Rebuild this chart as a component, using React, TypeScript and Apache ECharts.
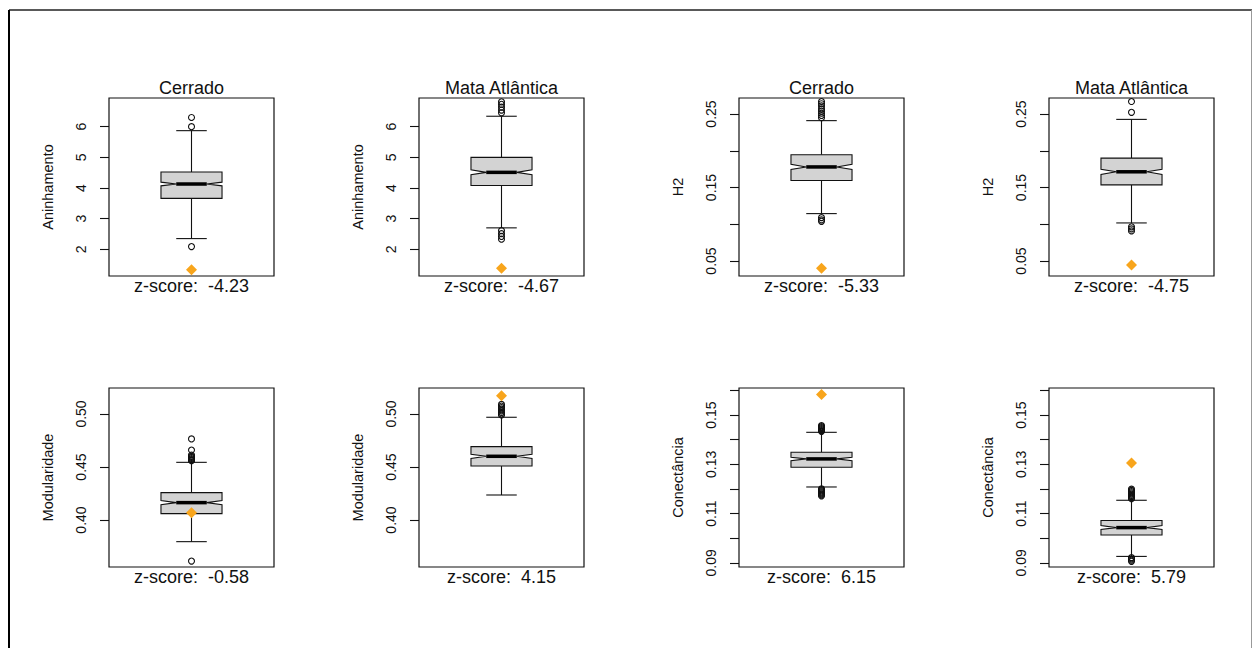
import React, { useEffect, useRef } from "react";
import * as echarts from "echarts";

// ---------------- data ----------------
const biomes = ["Cerrado", "Mata Atlântica"];
const metrics = ["Aninhamento", "H2", "Modularidade", "Conectância"];

// box stats: [lower whisker, Q1, median, Q3, upper whisker]  (Cerrado, Mata Atlântica)
const boxAninhamento = [
  [2.35, 3.66, 4.13, 4.52, 5.87],
  [2.70, 4.08, 4.51, 5.0, 6.34],
];
const notchAninhamento = [0.06, 0.08];
const outAninhamento = [
  [6.3, 6.0, 2.09],
  [6.81, 6.73, 6.64, 6.54, 6.45, 2.61, 2.51, 2.42, 2.33],
];
const obsAninhamento = [1.33, 1.38];
const zAninhamento = [-4.23, -4.67];
const ticksAninhamento = [2, 3, 4, 5, 6];
const labelsAninhamento = [2, 3, 4, 5, 6];
const rangeAninhamento = [1.13, 6.935];

const boxH2 = [
  [0.1145, 0.1595, 0.178, 0.1946, 0.241],
  [0.1018, 0.1536, 0.1714, 0.19, 0.2427],
];
const notchH2 = [0.0035, 0.0035];
const outH2 = [
  [0.267, 0.264, 0.261, 0.257, 0.254, 0.251, 0.248, 0.245, 0.109, 0.106, 0.104],
  [0.267, 0.2523, 0.0965, 0.0937, 0.091],
];
const obsH2 = [0.04, 0.0446];
const zH2 = [-5.33, -4.75];
const ticksH2 = [0.05, 0.1, 0.15, 0.2, 0.25];
const labelsH2 = [0.05, 0.15, 0.25];
const rangeH2 = [0.0296, 0.2718];

const boxModularidade = [
  [0.3796, 0.406, 0.4164, 0.4258, 0.4544],
  [0.4236, 0.4509, 0.4601, 0.4692, 0.4969],
];
const notchModularidade = [0.002, 0.002];
const outModularidade = [
  [0.4765, 0.466, 0.4613, 0.46, 0.459, 0.458, 0.457, 0.4565, 0.456, 0.3613],
  [0.509, 0.5075, 0.506, 0.5045, 0.503, 0.5015, 0.5, 0.499],
];
const obsModularidade = [0.4069, 0.5173];
const zModularidade = [-0.58, 4.15];
const ticksModularidade = [0.4, 0.45, 0.5];
const labelsModularidade = [0.4, 0.45, 0.5];
const rangeModularidade = [0.3557, 0.5245];

const boxConectancia = [
  [0.1208, 0.1288, 0.1322, 0.1349, 0.143],
  [0.0926, 0.1013, 0.1043, 0.1072, 0.1154],
];
const notchConectancia = [0.0007, 0.0008];
const outConectancia = [
  [0.1457, 0.1453, 0.1449, 0.1445, 0.1441, 0.1437, 0.1434, 0.12, 0.1196, 0.1192, 0.1188, 0.1184, 0.118, 0.1176, 0.1172],
  [0.1199, 0.1194, 0.1189, 0.1184, 0.1179, 0.1174, 0.1169, 0.1164, 0.116, 0.0921, 0.0916, 0.0911, 0.0906],
];
const obsConectancia = [0.1584, 0.1305];
const zConectancia = [6.15, 5.79];
const ticksConectancia = [0.09, 0.1, 0.11, 0.12, 0.13, 0.14, 0.15, 0.16];
const labelsConectancia = [0.09, 0.11, 0.13, 0.15];
const rangeConectancia = [0.0883, 0.161];

const metricDecimals = [0, 2, 2, 2];

// ---------------- layout ----------------
const panelMetric = [0, 0, 1, 1, 2, 2, 3, 3];
const panelBiome = [0, 1, 0, 1, 0, 1, 0, 1];
const gridLefts = [109, 419, 739, 1049];
const gridTops = [98, 388];
const gridWidth = 165;
const gridHeights = [178, 179];
const BOX_HALF = 0.185;
const FONT = "'Liberation Sans', Arial, Helvetica, sans-serif";

const boxes = [boxAninhamento, boxH2, boxModularidade, boxConectancia];
const notches = [notchAninhamento, notchH2, notchModularidade, notchConectancia];
const outs = [outAninhamento, outH2, outModularidade, outConectancia];
const obs = [obsAninhamento, obsH2, obsModularidade, obsConectancia];
const zs = [zAninhamento, zH2, zModularidade, zConectancia];
const ticks = [ticksAninhamento, ticksH2, ticksModularidade, ticksConectancia];
const labels = [labelsAninhamento, labelsH2, labelsModularidade, labelsConectancia];
const ranges = [rangeAninhamento, rangeH2, rangeModularidade, rangeConectancia];

function renderBox(params: any, api: any) {
  const xi = api.value(0);
  const lw = api.value(1);
  const q1 = api.value(2);
  const med = api.value(3);
  const q3 = api.value(4);
  const uw = api.value(5);
  const nh = api.value(6);
  const band = api.size([1, 0])[0];
  const hw = band * BOX_HALF;
  const cx = api.coord([xi, med])[0];
  const y = (v: number) => api.coord([xi, v])[1];
  const stroke = { stroke: "#111", lineWidth: 1.1, fill: null };
  const pts = [
    [cx - hw, y(q1)],
    [cx + hw, y(q1)],
    [cx + hw, y(med - nh)],
    [cx + hw * 0.5, y(med)],
    [cx + hw, y(med + nh)],
    [cx + hw, y(q3)],
    [cx - hw, y(q3)],
    [cx - hw, y(med + nh)],
    [cx - hw * 0.5, y(med)],
    [cx - hw, y(med - nh)],
  ];
  return {
    type: "group",
    children: [
      { type: "line", shape: { x1: cx, y1: y(lw), x2: cx, y2: y(q1) }, style: stroke },
      { type: "line", shape: { x1: cx, y1: y(q3), x2: cx, y2: y(uw) }, style: stroke },
      { type: "line", shape: { x1: cx - hw * 0.5, y1: y(lw), x2: cx + hw * 0.5, y2: y(lw) }, style: stroke },
      { type: "line", shape: { x1: cx - hw * 0.5, y1: y(uw), x2: cx + hw * 0.5, y2: y(uw) }, style: stroke },
      { type: "polygon", shape: { points: pts }, style: { fill: "#D3D3D3", stroke: "#111", lineWidth: 1.1 } },
      { type: "line", shape: { x1: cx - hw * 0.5, y1: y(med), x2: cx + hw * 0.5, y2: y(med) }, style: { stroke: "#000", lineWidth: 3.5 } },
    ],
  };
}

function buildOption() {
  const grid: any[] = [];
  const xAxis: any[] = [];
  const yAxis: any[] = [];
  const series: any[] = [];
  const title: any[] = [];

  for (let p = 0; p < 8; p++) {
    const m = panelMetric[p];
    const b = panelBiome[p];
    const row = p < 4 ? 0 : 1;
    const col = p % 4;
    const dec = metricDecimals[m];
    grid.push({
      left: gridLefts[col],
      top: gridTops[row],
      width: gridWidth,
      height: gridHeights[row],
      show: true,
      borderColor: "#111",
      borderWidth: 1.2,
      backgroundColor: "transparent",
      containLabel: false,
    });
    xAxis.push({
      type: "category",
      gridIndex: p,
      data: [biomes[b]],
      axisLine: { show: false },
      axisTick: { show: false },
      axisLabel: { show: false },
      splitLine: { show: false },
      name: "z-score:  " + zs[m][b].toFixed(2),
      nameLocation: "middle",
      nameGap: 1,
      nameTextStyle: { fontFamily: FONT, fontSize: 18, color: "#111" },
    });
    yAxis.push({
      type: "value",
      gridIndex: p,
      min: ranges[m][0],
      max: ranges[m][1],
      axisLine: { show: false },
      splitLine: { show: false },
      axisTick: { show: true, length: 9, customValues: ticks[m], lineStyle: { color: "#111", width: 1.1 } },
      axisLabel: {
        show: true,
        customValues: labels[m],
        rotate: 90,
        margin: 21,
        fontFamily: FONT,
        fontSize: 14,
        color: "#111",
        formatter: (v: number) => Number(v).toFixed(dec),
      },
      name: metrics[m],
      nameLocation: "middle",
      nameRotate: 90,
      nameGap: 54,
      nameTextStyle: { fontFamily: FONT, fontSize: 14.5, color: "#111" },
    });
    series.push({
      type: "custom",
      xAxisIndex: p,
      yAxisIndex: p,
      renderItem: renderBox,
      encode: { x: 0, y: [1, 2, 3, 4, 5] },
      data: [[0, ...boxes[m][b], notches[m][b]]],
      z: 2,
    });
    series.push({
      type: "scatter",
      xAxisIndex: p,
      yAxisIndex: p,
      symbol: "circle",
      symbolSize: 6,
      itemStyle: { color: "rgba(255,255,255,0)", borderColor: "#111", borderWidth: 1.1, opacity: 1 },
      data: outs[m][b].map((v) => [0, v]),
      z: 3,
    });
    series.push({
      type: "scatter",
      xAxisIndex: p,
      yAxisIndex: p,
      symbol: "diamond",
      symbolSize: 11,
      itemStyle: { color: "#F8A51C", opacity: 1 },
      data: [[0, obs[m][b]]],
      z: 4,
    });
    if (row === 0) {
      title.push({
        text: biomes[b],
        left: gridLefts[col] + gridWidth / 2,
        top: 79,
        textAlign: "center",
        padding: 0,
        textStyle: { fontFamily: FONT, fontSize: 18, fontWeight: "normal", color: "#111" },
      });
    }
  }

  return {
    animation: false,
    backgroundColor: "#fff",
    title,
    grid,
    xAxis,
    yAxis,
    series,
    graphic: [
      { type: "line", shape: { x1: 9, y1: 10, x2: 1252, y2: 10 }, style: { stroke: "#222", lineWidth: 1.5 } },
      { type: "line", shape: { x1: 9, y1: 10, x2: 9, y2: 660 }, style: { stroke: "#000", lineWidth: 2 } },
      { type: "line", shape: { x1: 1251.5, y1: 10, x2: 1251.5, y2: 660 }, style: { stroke: "#999", lineWidth: 1 } },
    ],
  };
}

export default function App() {
  const ref = useRef<HTMLDivElement>(null);
  useEffect(() => {
    document.body.style.margin = "0";
    if (!ref.current) return;
    const chart = echarts.init(ref.current, null, { renderer: "svg" });
    chart.setOption(buildOption() as any);
    return () => chart.dispose();
  }, []);
  return <div ref={ref} style={{ width: 1254, height: 648, background: "#fff" }} />;
}
